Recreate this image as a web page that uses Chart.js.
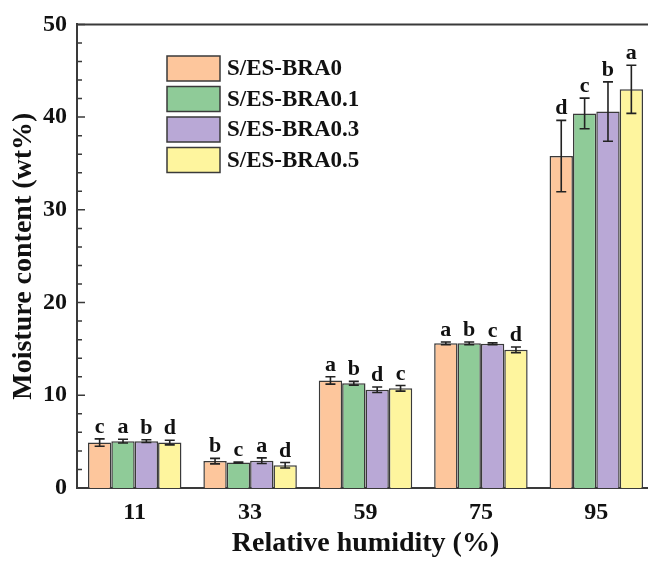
<html>
<head>
<style>
  body { margin: 0; overflow: hidden; background: #fff; }
  #wrap { width: 648px; height: 568px; overflow: hidden; }
</style>
</head>
<body>
<div id="wrap">
  <canvas id="myChart" width="680" height="568"></canvas>
</div>
<script src="https://cdn.jsdelivr.net/npm/chart.js"></script>
<script>
// relative humidity groups
const humidity = ['11', '33', '59', '75', '95'];

// moisture content (wt%) and error bars
const bra0  = [4.9, 2.9, 11.6, 15.6, 35.8];
const bra01 = [5.05, 2.75, 11.3, 15.6, 40.4];
const bra03 = [5.05, 2.95, 10.6, 15.55, 40.6];
const bra05 = [4.9, 2.45, 10.75, 14.9, 43.0];

const err0  = [0.4, 0.3, 0.4, 0.15, 3.85];
const err01 = [0.2, 0.05, 0.2, 0.15, 1.65];
const err03 = [0.15, 0.3, 0.3, 0.1, 3.2];
const err05 = [0.25, 0.3, 0.3, 0.3, 2.6];

// significance letters
const let0  = ['c', 'b', 'a', 'a', 'd'];
const let01 = ['a', 'c', 'b', 'b', 'c'];
const let03 = ['b', 'a', 'd', 'c', 'b'];
const let05 = ['d', 'd', 'c', 'd', 'a'];

const serif = '"Liberation Serif", "DejaVu Serif", serif';
const edge = '#3a3a3a';

function ds(label, values, errs, letters, color) {
  return {
    label: label,
    data: values,
    errors: errs,
    letters: letters,
    backgroundColor: color,
    borderColor: edge,
    borderWidth: 1.5,
    borderSkipped: 'bottom'
  };
}

const data = {
  labels: humidity,
  datasets: [
    ds('S/ES-BRA0', bra0, err0, let0, '#FDC69C'),
    ds('S/ES-BRA0.1', bra01, err01, let01, '#8FCB98'),
    ds('S/ES-BRA0.3', bra03, err03, let03, '#B9A8D6'),
    ds('S/ES-BRA0.5', bra05, err05, let05, '#FEF59E')
  ]
};

// error bars + letters
const errorBars = {
  id: 'errorBars',
  afterDatasetsDraw(chart) {
    const ctx = chart.ctx, y = chart.scales.y;
    ctx.save();
    chart.data.datasets.forEach((d, i) => {
      chart.getDatasetMeta(i).data.forEach((bar, j) => {
        const v = d.data[j], e = d.errors[j];
        const top = y.getPixelForValue(v + e), bot = y.getPixelForValue(v - e);
        ctx.strokeStyle = '#222';
        ctx.lineWidth = 1.6;
        ctx.beginPath();
        ctx.moveTo(bar.x, top); ctx.lineTo(bar.x, bot);
        ctx.moveTo(bar.x - 5, top); ctx.lineTo(bar.x + 5, top);
        ctx.moveTo(bar.x - 5, bot); ctx.lineTo(bar.x + 5, bot);
        ctx.stroke();
        ctx.fillStyle = '#111';
        ctx.font = 'bold 22px ' + serif;
        ctx.textAlign = 'center';
        ctx.textBaseline = 'alphabetic';
        ctx.fillText(d.letters[j], bar.x, top - 6);
      });
    });
    ctx.restore();
  }
};

// inward ticks, top frame, legend
const decor = {
  id: 'decor',
  afterDraw(chart) {
    const ctx = chart.ctx, y = chart.scales.y, a = chart.chartArea;
    ctx.save();
    ctx.strokeStyle = edge;
    ctx.lineWidth = 1.5;
    ctx.beginPath();
    for (let v = 0; v <= 50; v += 2) {
      const py = y.getPixelForValue(v);
      ctx.moveTo(a.left, py);
      ctx.lineTo(a.left + (v % 10 === 0 ? 8 : 5), py);
    }
    ctx.stroke();
    ctx.lineWidth = 2;
    ctx.beginPath();
    ctx.moveTo(a.left, a.top); ctx.lineTo(a.right, a.top);
    ctx.stroke();

    // legend
    ctx.font = 'bold 23px ' + serif;
    ctx.textAlign = 'left';
    ctx.textBaseline = 'middle';
    chart.data.datasets.forEach((d, i) => {
      const bx = 167, by = 56 + i * 30.5;
      ctx.fillStyle = d.backgroundColor;
      ctx.fillRect(bx, by, 53, 25);
      ctx.strokeStyle = edge;
      ctx.lineWidth = 1.5;
      ctx.strokeRect(bx, by, 53, 25);
      ctx.fillStyle = '#111';
      ctx.fillText(d.label, 227, by + 13.5);
    });
    ctx.restore();
  }
};

const config = {
  type: 'bar',
  data: data,
  options: {
    responsive: false,
    animation: false,
    layout: { padding: { top: 23, right: 26, bottom: 0, left: 0 } },
    datasets: {
      bar: { categoryPercentage: 0.81, barPercentage: 1.0 }
    },
    plugins: {
      legend: { display: false },
      tooltip: { enabled: false }
    },
    scales: {
      x: {
        grid: { display: false, drawTicks: false },
        border: { display: true, color: edge, width: 2 },
        ticks: {
          color: '#111',
          padding: 10,
          font: { family: serif, size: 24, weight: 'bold' }
        },
        title: {
          display: true,
          text: 'Relative humidity (%)',
          color: '#111',
          padding: { top: 0, bottom: 7 },
          font: { family: serif, size: 28, weight: 'bold' }
        },
        afterFit(scale) { scale.height = 80; }
      },
      y: {
        min: 0,
        max: 50,
        grid: { display: false, drawTicks: false },
        border: { display: true, color: edge, width: 2 },
        ticks: {
          stepSize: 10,
          color: '#111',
          padding: 10,
          font: { family: serif, size: 24, weight: 'bold' }
        },
        title: {
          display: true,
          text: 'Moisture content (wt%)',
          color: '#111',
          padding: { top: 7, bottom: 0 },
          font: { family: serif, size: 28, weight: 'bold' }
        },
        afterFit(scale) { scale.width = 77; }
      }
    }
  },
  plugins: [errorBars, decor]
};

const myChart = new Chart(document.getElementById('myChart'), config);
</script>
</body>
</html>
